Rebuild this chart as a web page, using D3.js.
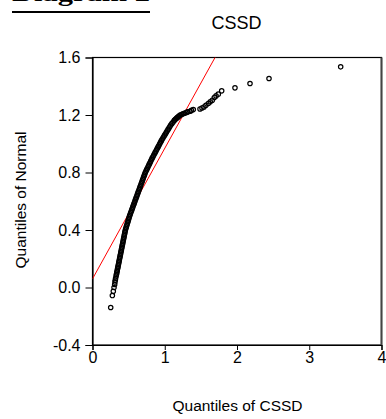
<!DOCTYPE html>
<html>
<head>
<meta charset="utf-8">
<script src="https://cdn.jsdelivr.net/npm/d3@7"></script>
<style>
  html, body { margin: 0; padding: 0; background: #fff; }
  svg { display: block; }
  text { font-family: "Liberation Sans", Arial, sans-serif; fill: #000; }
</style>
</head>
<body>
<svg id="chart" width="386" height="419"></svg>
<script>
// ---------- data ----------
const chartTitle = "CSSD";
const xAxisLabel = "Quantiles of CSSD";
const yAxisLabel = "Quantiles of Normal";
const headerText = "Diagram 2";

const xTicks = [0, 1, 2, 3, 4];
const yTicks = [-0.4, 0.0, 0.4, 0.8, 1.2, 1.6];
const yTickLabels = ["-0.4", "0.0", "0.4", "0.8", "1.2", "1.6"];

// quantiles of CSSD (x) and matching quantiles of normal (y)
const cssdQuantiles = [
  0.252, 0.275, 0.288, 0.298, 0.307, 0.311, 0.316, 0.320,
  0.327, 0.331, 0.335, 0.339, 0.343, 0.347, 0.351, 0.355, 0.359, 0.363,
  0.367, 0.371, 0.375, 0.379, 0.383, 0.387, 0.391, 0.395, 0.399, 0.403,
  0.407, 0.411, 0.415, 0.419, 0.423, 0.427, 0.431, 0.435, 0.439, 0.443,
  0.447, 0.451, 0.455, 0.461, 0.467, 0.473, 0.479, 0.485, 0.491, 0.497,
  0.503, 0.509, 0.515, 0.522, 0.529, 0.537, 0.544, 0.551, 0.558, 0.565,
  0.573, 0.580, 0.587, 0.594, 0.601, 0.609, 0.616, 0.623, 0.630, 0.637,
  0.645, 0.652, 0.659, 0.666, 0.673, 0.681, 0.688, 0.695, 0.702, 0.709,
  0.717, 0.724, 0.731, 0.741, 0.750, 0.760, 0.769, 0.779, 0.788, 0.798,
  0.807, 0.817, 0.826, 0.837, 0.847, 0.858, 0.868, 0.879, 0.889, 0.900,
  0.910, 0.921, 0.931, 0.942, 0.952, 0.963, 0.975, 0.987, 0.999, 1.011,
  1.023, 1.035, 1.047, 1.059, 1.071, 1.083, 1.098, 1.114, 1.129, 1.137,
  1.148, 1.159, 1.170, 1.181, 1.192, 1.203, 1.214, 1.233, 1.252, 1.271,
  1.291, 1.310, 1.320, 1.350, 1.370, 1.395,
  1.488, 1.515, 1.543, 1.570, 1.603, 1.630, 1.658, 1.686, 1.710, 1.741,
  1.788, 1.972, 2.180, 2.443, 3.435
];
const normalQuantiles = [
  -0.139, -0.056, -0.026, 0.000, 0.021, 0.039, 0.052, 0.064,
  0.080, 0.090, 0.100, 0.110, 0.120, 0.130, 0.140, 0.150, 0.160, 0.170,
  0.180, 0.190, 0.200, 0.210, 0.220, 0.230, 0.240, 0.250, 0.260, 0.270,
  0.280, 0.290, 0.300, 0.310, 0.320, 0.330, 0.340, 0.350, 0.360, 0.370,
  0.380, 0.390, 0.400, 0.410, 0.420, 0.430, 0.440, 0.450, 0.460, 0.470,
  0.480, 0.490, 0.500, 0.510, 0.520, 0.530, 0.540, 0.550, 0.560, 0.570,
  0.580, 0.590, 0.600, 0.610, 0.620, 0.630, 0.640, 0.650, 0.660, 0.670,
  0.680, 0.690, 0.700, 0.710, 0.720, 0.730, 0.740, 0.750, 0.760, 0.770,
  0.780, 0.790, 0.800, 0.810, 0.820, 0.830, 0.840, 0.850, 0.860, 0.870,
  0.880, 0.890, 0.900, 0.910, 0.920, 0.930, 0.940, 0.950, 0.960, 0.970,
  0.980, 0.990, 1.000, 1.010, 1.020, 1.030, 1.040, 1.050, 1.060, 1.070,
  1.080, 1.090, 1.100, 1.110, 1.120, 1.130, 1.140, 1.150, 1.160, 1.165,
  1.170, 1.175, 1.180, 1.185, 1.190, 1.195, 1.200, 1.204, 1.208, 1.212,
  1.216, 1.220, 1.222, 1.226, 1.232, 1.238,
  1.242, 1.249, 1.256, 1.268, 1.280, 1.292, 1.303, 1.322, 1.333, 1.345,
  1.368, 1.389, 1.419, 1.454, 1.535
];

// reference line (red)
const refIntercept = 0.06;
const refSlope = 0.908;
const refLineX = [0, 4];

// ---------- layout ----------
const svg = d3.select("#chart");
const plot = { left: 92.5, right: 381.5, top: 57.5, bottom: 345 };

const x = d3.scaleLinear().domain([0, 4]).range([plot.left, plot.right]);
const y = d3.scaleLinear().domain([-0.4, 1.6]).range([plot.bottom, plot.top]);

// header (cut off at top, as in the reference)
svg.append("text")
  .attr("x", 12).attr("y", 1)
  .attr("textLength", 138).attr("lengthAdjust", "spacingAndGlyphs")
  .style("font-family", "'Liberation Serif', 'Times New Roman', serif")
  .style("font-weight", "bold").style("font-size", "24px")
  .text(headerText);
svg.append("line").attr("x1", 12).attr("x2", 150).attr("y1", 12).attr("y2", 12)
  .attr("stroke", "#000").attr("stroke-width", 2);

// title
svg.append("text").attr("x", 236.5).attr("y", 28.5)
  .attr("text-anchor", "middle").style("font-size", "18px").text(chartTitle);

// clip
svg.append("defs").append("clipPath").attr("id", "clip")
  .append("rect").attr("x", plot.left).attr("y", plot.top)
  .attr("width", plot.right - plot.left).attr("height", plot.bottom - plot.top);

// frame
svg.append("rect").attr("x", plot.left).attr("y", plot.top)
  .attr("width", plot.right - plot.left).attr("height", plot.bottom - plot.top)
  .attr("fill", "none").attr("stroke", "#000").attr("stroke-width", 1.2);
svg.append("line").attr("x1", plot.right).attr("x2", plot.right)
  .attr("y1", plot.top).attr("y2", plot.bottom)
  .attr("stroke", "#444").attr("stroke-width", 2);

// axes
const xAxis = d3.axisBottom(x).tickValues(xTicks).tickFormat(d3.format("d")).tickSize(5).tickPadding(2);
const gx = svg.append("g").attr("transform", `translate(0,${plot.bottom})`).call(xAxis);
const yAxis = d3.axisLeft(y).tickValues(yTicks).tickFormat((d, i) => yTickLabels[i]).tickSize(7).tickPadding(5);
const gy = svg.append("g").attr("transform", `translate(${plot.left},0)`).call(yAxis);
[gx, gy].forEach(g => {
  g.select(".domain").attr("stroke", "#000").attr("stroke-width", 1.2);
  g.selectAll(".tick line").attr("stroke", "#000").attr("stroke-width", 1);
  g.selectAll(".tick text").style("font-size", "16px")
    .style("font-family", "'Liberation Sans', Arial, sans-serif").attr("fill", "#000");
});

// axis labels
svg.append("text").attr("x", 237.5).attr("y", 411)
  .attr("text-anchor", "middle").style("font-size", "15.5px").text(xAxisLabel);
svg.append("text").attr("transform", "translate(26,200) rotate(-90)")
  .attr("text-anchor", "middle").style("font-size", "15.5px").text(yAxisLabel);

// reference line
svg.append("line").attr("clip-path", "url(#clip)")
  .attr("x1", x(refLineX[0])).attr("y1", y(refIntercept + refSlope * refLineX[0]))
  .attr("x2", x(refLineX[1])).attr("y2", y(refIntercept + refSlope * refLineX[1]))
  .attr("stroke", "#ff0000").attr("stroke-width", 1);

// points
const pts = cssdQuantiles.map((v, i) => ({ qx: v, qy: normalQuantiles[i] }));
svg.append("g").attr("clip-path", "url(#clip)").selectAll("circle").data(pts).join("circle")
  .attr("cx", d => x(d.qx)).attr("cy", d => y(d.qy)).attr("r", 2.2)
  .attr("fill", "none").attr("stroke", "#000").attr("stroke-width", 1.2);
</script>
</body>
</html>
